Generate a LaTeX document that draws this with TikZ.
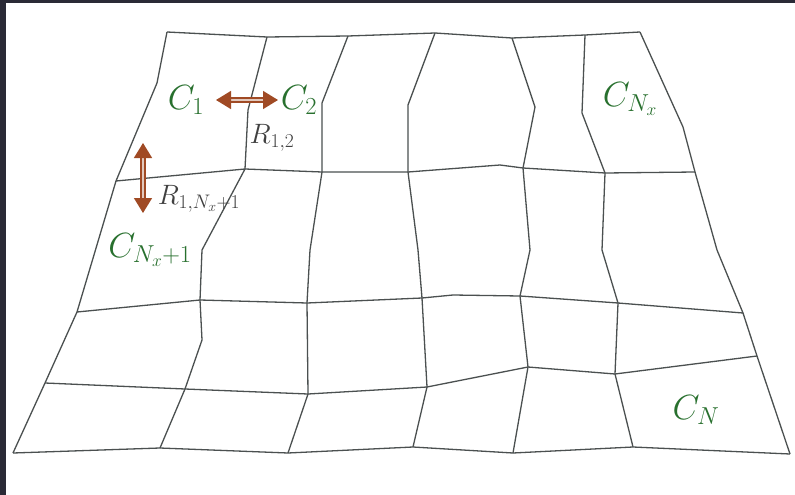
\RequirePackage{fix-cm}
\documentclass[tikz,border=0pt]{standalone}
\usepackage{amsmath, amssymb}
\usepackage{tikz}
\usepackage{xcolor}
\usetikzlibrary{arrows.meta}

\definecolor{cellgreen}{RGB}{40,112,46}
\definecolor{flowbrown}{RGB}{160,74,36}
\definecolor{meshgray}{RGB}{75,80,80}
\definecolor{framedark}{RGB}{42,42,54}

\tikzset{
    meshline/.style={draw=meshgray, line width=1.3pt, line join=round},
    cell/.style={text=cellgreen, inner sep=1pt, font=\fontsize{35}{40}\selectfont},
    resist/.style={text=black!75, inner sep=1pt, font=\fontsize{28}{32}\selectfont},
    flow/.style={draw=flowbrown, line width=1.4pt, double=flowbrown!30, double distance=2.6pt,
        {Triangle[width=18pt,length=15pt]}-{Triangle[width=18pt,length=15pt]}}
}

\begin{document}
\begin{tikzpicture}[x=1pt, y=-1pt]
    \useasboundingbox (0,0) rectangle (795,495);
    \fill[white] (0,0) rectangle (795,495);
    \fill[framedark] (0,0) rectangle (795,3);
    \fill[framedark] (0,0) rectangle (6,495);

    % mesh points, row by row
    \coordinate (p00) at (167,32);  \coordinate (p01) at (267,37);  \coordinate (p02) at (348,36);
    \coordinate (p03) at (435,33);  \coordinate (p04) at (512,38);  \coordinate (p05) at (585,35);
    \coordinate (p06) at (640,32);
    \coordinate (p10) at (116,181); \coordinate (p11) at (245,169); \coordinate (p12) at (322,172);
    \coordinate (p13) at (408,172); \coordinate (p14) at (523,168); \coordinate (p15) at (605,173);
    \coordinate (p16) at (695,172);
    \coordinate (p20) at (77,312);  \coordinate (p21) at (200,300); \coordinate (p22) at (307,303);
    \coordinate (p23) at (422,298); \coordinate (p24) at (520,296); \coordinate (p25) at (618,303);
    \coordinate (p26) at (743,313);
    \coordinate (p30) at (45,383);  \coordinate (p31) at (185,389); \coordinate (p32) at (308,394);
    \coordinate (p33) at (427,387); \coordinate (p34) at (528,367); \coordinate (p35) at (615,374);
    \coordinate (p36) at (757,356);
    \coordinate (p40) at (13,453);  \coordinate (p41) at (160,448); \coordinate (p42) at (288,453);
    \coordinate (p43) at (413,447); \coordinate (p44) at (513,453); \coordinate (p45) at (633,447);
    \coordinate (p46) at (790,454);

    % horizontal mesh lines
    \draw[meshline] (p00) -- (p01) -- (p02) -- (p03) -- (p04) -- (p05) -- (p06);
    \draw[meshline] (p10) -- (p11) -- (p12) -- (p13) -- (500,165) -- (p14) -- (p15) -- (p16);
    \draw[meshline] (p20) -- (p21) -- (p22) -- (p23) -- (453,295) -- (p24) -- (p25) -- (p26);
    \draw[meshline] (p30) -- (p31) -- (p32) -- (p33) -- (p34) -- (p35) -- (p36);
    \draw[meshline] (p40) -- (p41) -- (p42) -- (p43) -- (p44) -- (p45) -- (p46);

    % vertical mesh lines
    \draw[meshline] (p00) -- (157,83) -- (p10) -- (p20) -- (p30) -- (p40);
    \draw[meshline] (p01) -- (248,110) -- (p11) -- (202,250) -- (p21) -- (202,340) -- (p31) -- (p41);
    \draw[meshline] (p02) -- (322,103) -- (p12) -- (310,250) -- (p22) -- (p32) -- (p42);
    \draw[meshline] (p03) -- (408,105) -- (p13) -- (418,250) -- (p23) -- (p33) -- (p43);
    \draw[meshline] (p04) -- (535,107) -- (p14) -- (530,250) -- (p24) -- (p34) -- (p44);
    \draw[meshline] (p05) -- (582,113) -- (p15) -- (602,250) -- (p25) -- (p35) -- (p45);
    \draw[meshline] (p06) -- (683,127) -- (p16) -- (717,250) -- (p26) -- (p36) -- (p46);

    % cell labels
    \node (c1) [cell] at (186,100) {$C_1$};
    \node (c2) [cell] at (299,100) {$C_2$};
    \node (cnx) [cell] at (630,99) {$C_{N_x}$};
    \node (cnx1) [cell] at (150,250) {$C_{N_x+1}$};
    \node (cn) [cell] at (696,410) {$C_N$};

    % resistance labels
    \node (r12) [resist] at (272,138) {$R_{1,2}$};
    \node (r1nx) [resist] at (199,199) {$R_{1,N_x+1}$};

    % exchange arrows
    \coordinate (h1) at (216,100);
    \coordinate (h2) at (278,100);
    \coordinate (v1) at (143,143);
    \coordinate (v2) at (143,213);
    \draw[flow] (h1) -- (h2);
    \draw[flow] (v1) -- (v2);
\end{tikzpicture}
\end{document}
